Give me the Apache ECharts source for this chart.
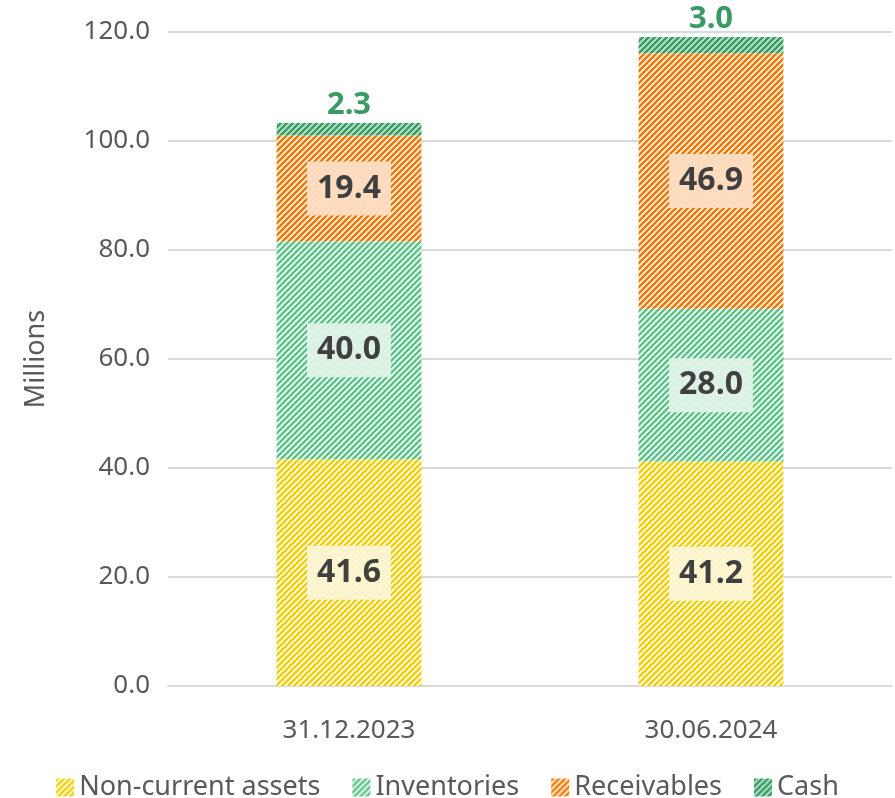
<!DOCTYPE html>
<html>
<head>
<meta charset="UTF-8">
<title>Assets</title>
<script src="https://cdn.jsdelivr.net/npm/echarts@6/dist/echarts.min.js"></script>
<style>
  html, body { margin: 0; padding: 0; background: #fff; }
  #chart { width: 895px; height: 798px; }
</style>
</head>
<body>
<div id="chart"></div>
<script>
var categories = ['31.12.2023', '30.06.2024'];
var nonCurrent = [41.6, 41.2];
var inventories = [40.0, 28.0];
var receivables = [19.4, 46.9];
var cash = [2.3, 3.0];

// diagonal hatch fill
function hatch(fg, bg) {
    var n = 6;
    var c = document.createElement('canvas');
    c.width = n; c.height = n;
    var ctx = c.getContext('2d');
    ctx.fillStyle = bg;
    ctx.fillRect(0, 0, n, n);
    ctx.fillStyle = fg;
    for (var x = 0; x < n; x++) {
        for (var y = 0; y < n; y++) {
            if ((x + y) % n < 3) ctx.fillRect(x, y, 1, 1);
        }
    }
    return { image: c, repeat: 'repeat' };
}

var font = '"Noto Sans", sans-serif';

function inLabel(bg) {
    return {
        show: true,
        position: 'inside',
        formatter: function (p) { return p.value.toFixed(1); },
        fontSize: 32,
        fontWeight: 'bold',
        fontFamily: font,
        color: '#404040',
        backgroundColor: bg,
        padding: [13, 10, 9, 10]
    };
}

var chart = echarts.init(document.getElementById('chart'));
chart.setOption({
    animation: false,
    grid: { left: 168, right: 3, top: 32, bottom: 112 },
    legend: {
        bottom: -8,
        left: 'center',
        itemWidth: 18,
        itemHeight: 18,
        itemGap: 32,
        icon: 'rect',
        textStyle: { fontSize: 27, color: '#595959', fontFamily: font },
        data: ['Non-current assets', 'Inventories', 'Receivables', 'Cash']
    },
    xAxis: {
        type: 'category',
        data: categories,
        axisTick: { show: false },
        axisLine: { lineStyle: { color: '#d9d9d9', width: 2 } },
        axisLabel: { fontSize: 26, color: '#595959', margin: 32, fontFamily: font }
    },
    yAxis: {
        type: 'value',
        min: 0, max: 120, interval: 20,
        name: 'Millions',
        nameLocation: 'middle',
        nameGap: 118,
        nameTextStyle: { fontSize: 27, color: '#595959', fontFamily: font },
        axisLabel: {
            fontSize: 26, color: '#595959', margin: 18, fontFamily: font,
            formatter: function (v) { return v.toFixed(1); }
        },
        splitLine: { lineStyle: { color: '#d9d9d9', width: 2 } }
    },
    series: [
        {
            name: 'Non-current assets', type: 'bar', stack: 'a', barWidth: '40%',
            data: nonCurrent,
            itemStyle: { color: hatch('#f0d000', '#fdf5d0') },
            label: inLabel('rgba(253,246,212,0.95)')
        },
        {
            name: 'Inventories', type: 'bar', stack: 'a',
            data: inventories,
            itemStyle: { color: hatch('#5cc28c', '#dcf2e5') },
            label: inLabel('rgba(223,242,231,0.95)')
        },
        {
            name: 'Receivables', type: 'bar', stack: 'a',
            data: receivables,
            itemStyle: { color: hatch('#f07800', '#ffe0c2') },
            label: inLabel('rgba(255,222,196,0.95)')
        },
        {
            name: 'Cash', type: 'bar', stack: 'a',
            data: cash,
            itemStyle: { color: hatch('#3a9a66', '#a8dcbc') },
            label: {
                show: true,
                position: 'top',
                distance: 2,
                formatter: function (p) { return p.value.toFixed(1); },
                fontSize: 31,
                fontWeight: 'bold',
                fontFamily: font,
                color: '#3a9a66'
            }
        }
    ]
});
</script>
</body>
</html>
